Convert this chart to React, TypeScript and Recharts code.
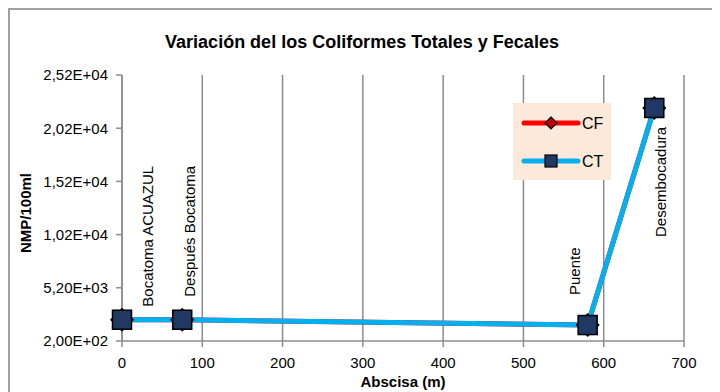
import { CartesianGrid, LabelList, Line, LineChart, XAxis, YAxis } from 'recharts';

// abscisa (m) de cada punto de muestreo
const abscisa = [0, 75, 580, 663];
const sitios = ['Bocatoma ACUAZUL', 'Después Bocatoma', 'Puente', 'Desembocadura'];
// NMP/100ml
const coliformesFecales = [2200, 2200, 1700, 22100];
const coliformesTotales = [2200, 2200, 1700, 22100];

const xTicks = [0, 100, 200, 300, 400, 500, 600, 700];
const yTicks = [200, 5200, 10200, 15200, 20200, 25200];

// desplazamiento (px) del rotulo de cada sitio respecto a su punto
const labelOffsets = [
  { dx: 26, dy: -13 },
  { dx: 7, dy: -23 },
  { dx: -13, dy: -30 },
  { dx: 6, dy: 129 },
];

const data = abscisa.map((x, i) => ({
  x,
  sitio: sitios[i],
  cf: coliformesFecales[i],
  ct: coliformesTotales[i],
}));

const FONT = '"Liberation Sans", Arial, sans-serif';
const AXIS_GRAY = '#8c8c8c';
const CF_COLOR = '#ff0000';
const CT_COLOR = '#00b0f0';

function formatSci(v: number) {
  const [m, e] = v.toExponential(2).split('e');
  const exp = parseInt(e, 10);
  return `${m.replace('.', ',')}E${exp < 0 ? '-' : '+'}${String(Math.abs(exp)).padStart(2, '0')}`;
}

function SquareDot({ cx, cy }: any) {
  if (cx == null || cy == null) return null;
  return <rect x={cx - 9.5} y={cy - 9.5} width={19} height={19} fill="#1f3864" stroke="#000" strokeWidth={1.5} />;
}

function DiamondDot({ cx, cy }: any) {
  if (cx == null || cy == null) return null;
  const r = 11;
  return (
    <polygon
      points={`${cx},${cy - r} ${cx + r},${cy} ${cx},${cy + r} ${cx - r},${cy}`}
      fill="#c00000"
      stroke="#000"
      strokeWidth={1.5}
    />
  );
}

function SiteLabel({ x, y, index, value }: any) {
  const off = labelOffsets[index] || { dx: 0, dy: 0 };
  const lx = x + off.dx;
  const ly = y + off.dy;
  return (
    <text
      x={lx}
      y={ly}
      transform={`rotate(-90, ${lx}, ${ly})`}
      textAnchor="start"
      dominantBaseline="central"
      fontFamily={FONT}
      fontSize={15}
      fill="#000"
    >
      {value}
    </text>
  );
}

function LegendBox() {
  return (
    <div
      style={{
        position: 'absolute',
        left: 503,
        top: 93,
        width: 98,
        height: 77,
        background: '#fde9d9',
        fontFamily: FONT,
        fontSize: 16,
      }}
    >
      <svg width={98} height={77} style={{ position: 'absolute', left: 0, top: 0 }}>
        <line x1={11} y1={20} x2={65} y2={20} stroke={CF_COLOR} strokeWidth={5} strokeLinecap="round" />
        <polygon points="38,14 44,20 38,26 32,20" fill="#c00000" stroke="#000" strokeWidth={1.2} />
        <text x={69} y={20} dominantBaseline="central" fontFamily={FONT} fontSize={16}>
          CF
        </text>
        <line x1={11} y1={58} x2={65} y2={58} stroke={CT_COLOR} strokeWidth={5} strokeLinecap="round" />
        <rect x={32} y={52} width={12} height={12} fill="#1f3864" stroke="#000" strokeWidth={1.2} />
        <text x={69} y={58} dominantBaseline="central" fontFamily={FONT} fontSize={16}>
          CT
        </text>
      </svg>
    </div>
  );
}

export default function App() {
  const tickStyle = { fontSize: 15, fill: '#000', fontFamily: FONT };
  return (
    <div
      style={{
        position: 'relative',
        width: 712,
        height: 384,
        borderTop: '2px solid #a0a0a0',
        borderLeft: '2px solid #a0a0a0',
        boxSizing: 'border-box',
        background: '#fff',
        overflow: 'hidden',
      }}
    >
      <div
        style={{
          position: 'absolute',
          left: 0,
          top: 22,
          width: 704,
          textAlign: 'center',
          fontFamily: FONT,
          fontWeight: 'bold',
          fontSize: 18,
          lineHeight: '20px',
        }}
      >
        Variación del los Coliformes Totales y Fecales
      </div>

      <LineChart width={702} height={374} data={data} margin={{ top: 65, right: 28, left: 0, bottom: 0 }}>
        <CartesianGrid vertical horizontal={false} stroke={AXIS_GRAY} strokeWidth={1.5} />
        <XAxis
          dataKey="x"
          type="number"
          domain={[0, 700]}
          ticks={xTicks}
          height={43}
          tick={tickStyle}
          tickSize={6}
          tickMargin={10}
          stroke={AXIS_GRAY}
          strokeWidth={1.5}
        />
        <YAxis
          type="number"
          domain={[200, 25200]}
          ticks={yTicks}
          width={112}
          tick={tickStyle}
          tickFormatter={formatSci}
          tickSize={6}
          tickMargin={8}
          stroke={AXIS_GRAY}
          strokeWidth={1.5}
        />
        <Line
          dataKey="cf"
          name="CF"
          stroke={CF_COLOR}
          strokeWidth={5}
          dot={<DiamondDot />}
          activeDot={false}
          isAnimationActive={false}
        />
        <Line
          dataKey="ct"
          name="CT"
          stroke={CT_COLOR}
          strokeWidth={5}
          dot={<SquareDot />}
          activeDot={false}
          isAnimationActive={false}
        >
          <LabelList dataKey="sitio" content={<SiteLabel />} />
        </Line>
      </LineChart>

      <div
        style={{
          position: 'absolute',
          left: 15,
          top: 203,
          transform: 'translate(-50%, -50%) rotate(-90deg)',
          fontFamily: FONT,
          fontWeight: 'bold',
          fontSize: 15,
          whiteSpace: 'nowrap',
        }}
      >
        NMP/100ml
      </div>
      <div
        style={{
          position: 'absolute',
          left: 393,
          top: 371,
          transform: 'translate(-50%, -50%)',
          fontFamily: FONT,
          fontWeight: 'bold',
          fontSize: 15,
          whiteSpace: 'nowrap',
        }}
      >
        Abscisa (m)
      </div>

      <LegendBox />
    </div>
  );
}
